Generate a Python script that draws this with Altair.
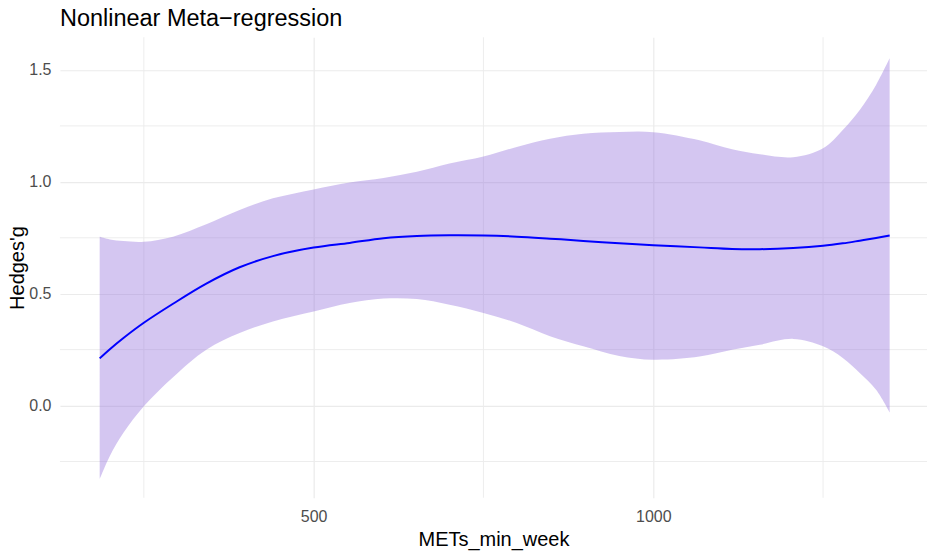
import altair as alt
import pandas as pd

# METs_min_week sample positions
x_vals = [185, 200, 220, 250, 293, 342, 391, 440, 500, 553, 603, 652, 700, 750, 799,
          848, 897, 950, 1000, 1068, 1116, 1157, 1206, 1250, 1279, 1304, 1328, 1348]
# fitted Hedges' g
fit = [0.211, 0.252, 0.302, 0.370, 0.455, 0.545, 0.618, 0.668, 0.706, 0.727, 0.748, 0.758, 0.761, 0.760, 0.755,
       0.746, 0.736, 0.725, 0.717, 0.707, 0.700, 0.699, 0.704, 0.714, 0.725, 0.737, 0.749, 0.760]
# confidence band
upper = [0.754, 0.742, 0.735, 0.732, 0.755, 0.810, 0.874, 0.926, 0.966, 0.997, 1.017, 1.045, 1.082, 1.113, 1.156,
         1.193, 1.215, 1.223, 1.222, 1.186, 1.145, 1.123, 1.110, 1.150, 1.232, 1.321, 1.433, 1.552]
lower = [-0.329, -0.225, -0.122, -0.003, 0.127, 0.250, 0.324, 0.376, 0.420, 0.458, 0.478, 0.476, 0.451, 0.414, 0.369,
         0.310, 0.265, 0.222, 0.205, 0.219, 0.249, 0.272, 0.298, 0.265, 0.213, 0.146, 0.071, -0.030]

x_major = [500, 1000]
x_minor = [250, 750, 1250]
y_major = [0.0, 0.5, 1.0, 1.5]
y_minor = [-0.25, 0.25, 0.75, 1.25]

title_text = "Nonlinear Meta−regression"

df = pd.DataFrame({"x": x_vals, "fit": fit, "upper": upper, "lower": lower})

FONT = "Liberation Sans"
GRID = "#EBEBEB"

xscale = alt.Scale(domain=[126.5, 1403], nice=False, zero=False)
yscale = alt.Scale(domain=[-0.412, 1.646], nice=False, zero=False)

xaxis = alt.Axis(values=x_major, format="d", title="METs_min_week", grid=True, gridColor=GRID, gridWidth=1.2,
                 domain=False, ticks=False, labelPadding=11, labelFontSize=16, labelColor="#4D4D4D",
                 labelFont=FONT, titleFont=FONT, titleFontSize=20, titleFontWeight="normal",
                 titleColor="black", titleBaseline="alphabetic", titleY=48)
yaxis = alt.Axis(values=y_major, format=".1f", title="Hedges'g", grid=True, gridColor=GRID, gridWidth=1.2,
                 domain=False, ticks=False, labelPadding=9, labelFontSize=16, labelColor="#4D4D4D",
                 labelFont=FONT, titleFont=FONT, titleFontSize=20, titleFontWeight="normal",
                 titleColor="black", titleBaseline="alphabetic", titleAngle=270, titleX=-36)

vminor = alt.Chart(pd.DataFrame({"v": x_minor})).mark_rule(color=GRID, strokeWidth=0.9).encode(
    x=alt.X("v:Q", scale=xscale, axis=xaxis))
hminor = alt.Chart(pd.DataFrame({"v": y_minor})).mark_rule(color=GRID, strokeWidth=0.9).encode(
    y=alt.Y("v:Q", scale=yscale, axis=yaxis))

band = alt.Chart(df).mark_area(color="#9370DB", opacity=0.4, interpolate="catmull-rom").encode(
    x=alt.X("x:Q", scale=xscale, axis=xaxis),
    y=alt.Y("lower:Q", scale=yscale, axis=yaxis),
    y2="upper:Q",
)
line = alt.Chart(df).mark_line(color="#0000FF", strokeWidth=2, interpolate="catmull-rom").encode(
    x=alt.X("x:Q", scale=xscale, axis=xaxis),
    y=alt.Y("fit:Q", scale=yscale, axis=yaxis),
)

title = alt.Chart(pd.DataFrame({"t": [title_text]})).mark_text(
    align="left", baseline="alphabetic", font=FONT, fontSize=23.5, color="black"
).encode(text="t:N", x=alt.value(0), y=alt.value(-11))

chart = alt.layer(vminor, hminor, band, line, title).properties(
    width=868, height=461,
    background="white",
    autosize=alt.AutoSizeParams(type="none"),
    padding={"left": 52, "top": 29, "right": 0, "bottom": 56},
).configure_view(stroke=None)

chart.save("out.html", embed_options={"renderer": "svg", "actions": False})
